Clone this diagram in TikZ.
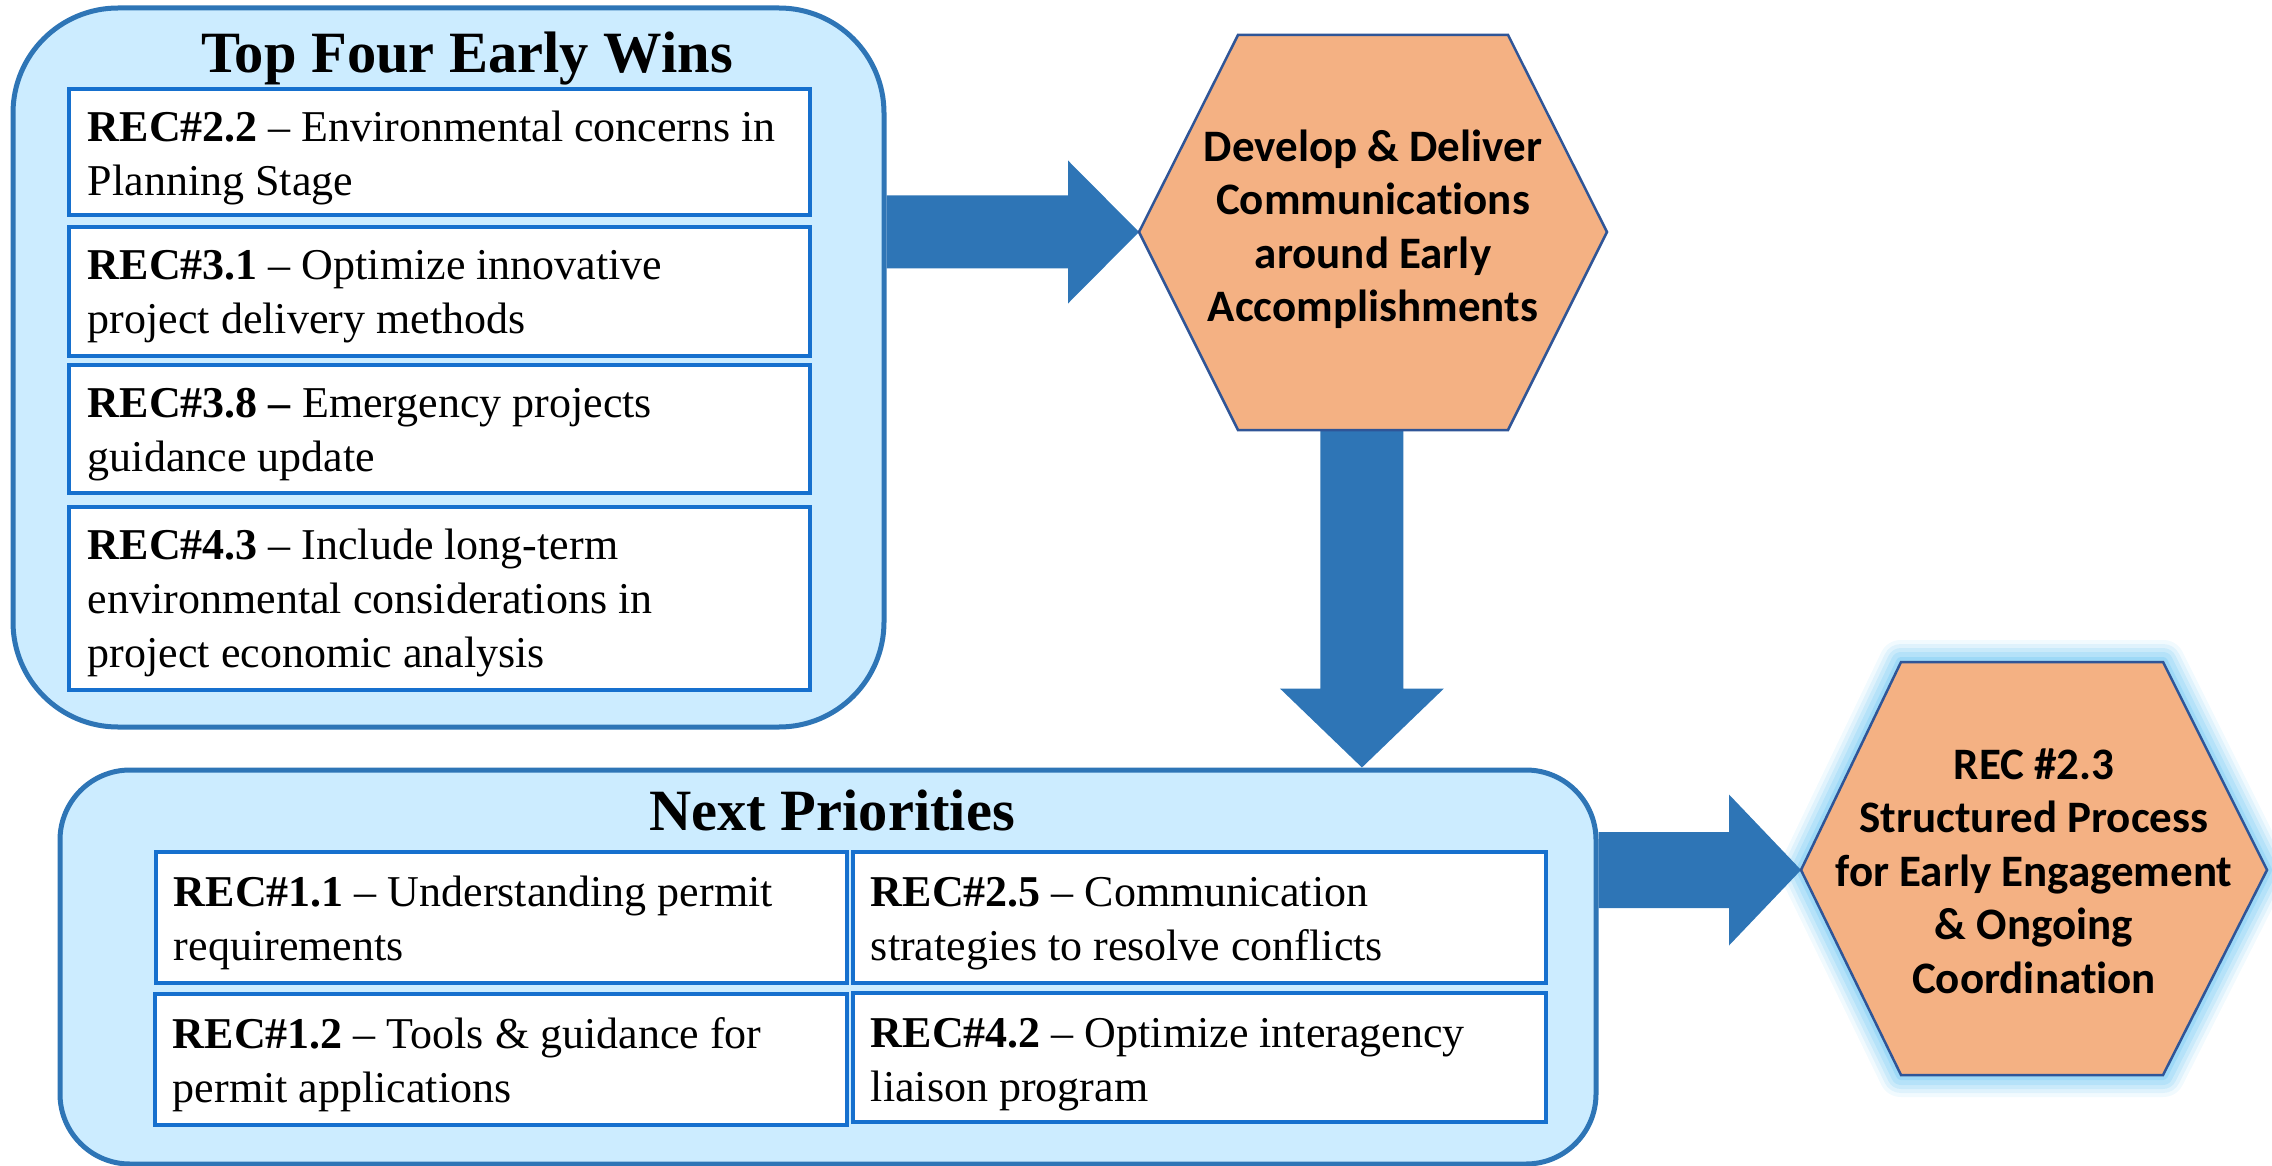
\documentclass[tikz,border=0pt]{standalone}
\usepackage{fontspec}
\setmainfont{Liberation Serif}
\newfontfamily\hexfont[Ligatures=NoCommon]{Carlito}
\usetikzlibrary{calc}
\pgfdeclarelayer{bg}
\pgfsetlayers{bg,main}
\definecolor{outerfill}{RGB}{204,236,255}
\definecolor{outerline}{RGB}{46,117,182}
\definecolor{innerline}{RGB}{22,112,206}
\definecolor{arrowblue}{RGB}{46,117,182}
\definecolor{hexfill}{RGB}{244,177,131}
\definecolor{hexline}{RGB}{47,85,151}
\definecolor{glowblue}{RGB}{140,210,245}
\newcommand\rightblock[5]{\fill[blockarrow] ($(#1)+(0,-#3)$) -- ($(#2)+(-#5,-#3)$) -- ($(#2)+(-#5,-#4)$) -- (#2) -- ($(#2)+(-#5,#4)$) -- ($(#2)+(-#5,#3)$) -- ($(#1)+(0,#3)$) -- cycle;}
\newcommand\downblock[5]{\fill[blockarrow] ($(#1)+(-#3,0)$) -- ($(#2)+(-#3,-#5)$) -- ($(#2)+(-#4,-#5)$) -- (#2) -- ($(#2)+(#4,-#5)$) -- ($(#2)+(#3,-#5)$) -- ($(#1)+(#3,0)$) -- cycle;}
\begin{document}
\begin{tikzpicture}[x=1pt,y=-1pt,
  outerbox/.style={draw=outerline, fill=outerfill, line width=5pt, rectangle, inner sep=0pt},
  recbox/.style={draw=innerline, fill=white, line width=4.5pt, rectangle, inner sep=0pt},
  rectext/.style={anchor=north west, inner sep=0pt, align=left, font=\fontsize{44pt}{54pt}\selectfont},
  titletext/.style={anchor=base, inner sep=0pt, font=\bfseries\fontsize{58.5pt}{60pt}\selectfont},
  hexshape/.style={fill=hexfill, draw=hexline, line width=2.5pt, line join=miter},
  hextext/.style={align=center, inner sep=0pt, font=\hexfont\bfseries\fontsize{45pt}{53.5pt}\selectfont},
  blockarrow/.style={fill=arrowblue}
]
\useasboundingbox (0,0) rectangle (2272,1166);

% ---------- Top Four Early Wins ----------
\node[outerbox, minimum width=871, minimum height=719, rounded corners=105] (wins) at (448.5,367.5) {};
\node[titletext] (winsT) at (467,73) {Top Four Early Wins};

\node[recbox, minimum width=741, minimum height=126] (b1) at (439.5,152) {};
\node[recbox, minimum width=741, minimum height=129] (b2) at (439.5,291.5) {};
\node[recbox, minimum width=741, minimum height=128] (b3) at (439.5,429) {};
\node[recbox, minimum width=741, minimum height=183] (b4) at (439.5,598.5) {};

\node[rectext] (t1) at ($(b1.north west)+(21,17)$) {\strut\textbf{REC\#2.2} \textendash{} Environmental concerns in\\Planning Stage};
\node[rectext] (t2) at ($(b2.north west)+(21,17)$) {\strut\textbf{REC\#3.1} \textendash{} Optimize innovative\\project delivery methods};
\node[rectext] (t3) at ($(b3.north west)+(21,17)$) {\strut\textbf{REC\#3.8 \textendash} Emergency projects\\guidance update};
\node[rectext] (t4) at ($(b4.north west)+(21,17)$) {\strut\textbf{REC\#4.3} \textendash{} Include long-term\\environmental considerations in\\project economic analysis};

% ---------- Next Priorities ----------
\node[outerbox, minimum width=1536, minimum height=394, rounded corners=70] (prio) at (828,967) {};
\node[titletext] (prioT) at (832,830) {Next Priorities};

\node[recbox, minimum width=691, minimum height=131] (bA) at (501.5,917.5) {};
\node[recbox, minimum width=693, minimum height=131] (bB) at (1199.5,917.5) {};
\node[recbox, minimum width=692, minimum height=131] (bC) at (501,1059.5) {};
\node[recbox, minimum width=693, minimum height=129] (bD) at (1199.5,1057.5) {};

\node[rectext] (tA) at ($(bA.north west)+(20,19)$) {\strut\textbf{REC\#1.1} \textendash{} Understanding permit\\requirements};
\node[rectext] (tB) at ($(bB.north west)+(20,19)$) {\strut\textbf{REC\#2.5} \textendash{} Communication\\strategies to resolve conflicts};
\node[rectext] (tC) at ($(bC.north west)+(20,19)$) {\strut\textbf{REC\#1.2} \textendash{} Tools \& guidance for\\permit applications};
\node[rectext] (tD) at ($(bD.north west)+(20,19)$) {\strut\textbf{REC\#4.2} \textendash{} Optimize interagency\\liaison program};

% ---------- Hexagon 1 ----------
\coordinate (h1tl) at (1238,35);
\coordinate (h1tr) at (1508,35);
\coordinate (h1r)  at (1607,232);
\coordinate (h1br) at (1508,430);
\coordinate (h1bl) at (1238,430);
\coordinate (h1l)  at (1139,232);
\draw[hexshape] (h1tl) -- (h1tr) -- (h1r) -- (h1br) -- (h1bl) -- (h1l) -- cycle;
\node[hextext] (h1) at (1373,229) {Develop \& Deliver\\Communications\\around Early\\Accomplishments};

% ---------- Hexagon 2 ----------
\coordinate (h2tl) at (1901,662);
\coordinate (h2tr) at (2163,662);
\coordinate (h2r)  at (2267,870);
\coordinate (h2br) at (2163,1075);
\coordinate (h2bl) at (1901,1075);
\coordinate (h2l)  at (1801,870);
\begin{pgfonlayer}{bg}
\foreach \w/\o in {44/0.12, 36/0.18, 28/0.25, 20/0.35, 10/0.55}
  \draw[glowblue, line width=\w pt, opacity=\o, line join=round] (h2tl) -- (h2tr) -- (h2r) -- (h2br) -- (h2bl) -- (h2l) -- cycle;
\end{pgfonlayer}
\draw[hexshape] (h2tl) -- (h2tr) -- (h2r) -- (h2br) -- (h2bl) -- (h2l) -- cycle;
\node[hextext] (h2) at (2034,871) {REC \#2.3\\Structured Process\\for Early Engagement\\\& Ongoing\\Coordination};

% ---------- Block arrows ----------
\coordinate (a1s) at (wins.east |- h1l);
\coordinate (a2s) at ($(h1bl)!0.459!(h1br)$);
\coordinate (a2e) at (a2s |- prio.north);
\coordinate (a3s) at (prio.east |- h2l);
\begin{pgfonlayer}{bg}
\rightblock{a1s}{h1l}{36.5}{71.5}{71}
\downblock{a2s}{a2e}{41.5}{82}{79}
\rightblock{a3s}{h2l}{38}{75.5}{72}
\end{pgfonlayer}
\end{tikzpicture}
\end{document}
